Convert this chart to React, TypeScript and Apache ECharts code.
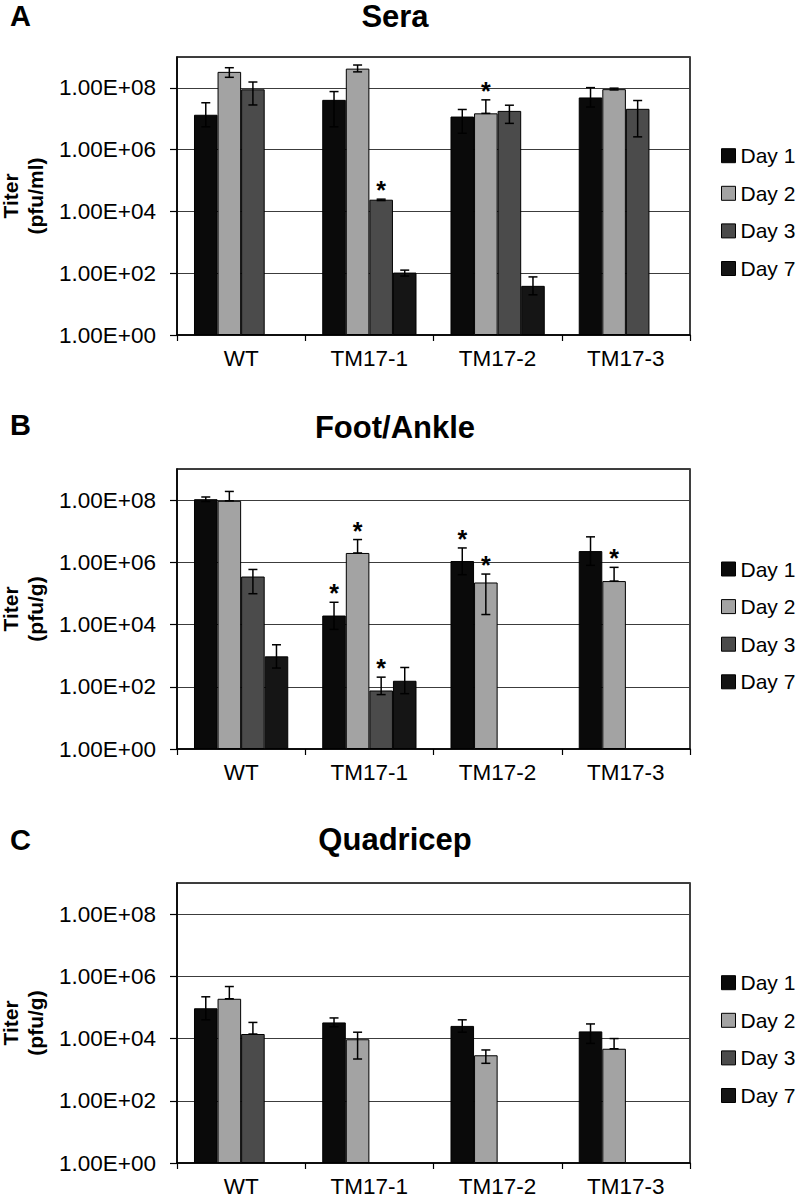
import React, { useEffect, useRef } from 'react';
import * as echarts from 'echarts';

// ---------- data ----------
const categories = ['WT', 'TM17-1', 'TM17-2', 'TM17-3'];
const days = ['Day 1', 'Day 2', 'Day 3', 'Day 7'];
const dayColors = ['#0a0a0a', '#a3a3a3', '#4b4b4b', '#151515'];

// Panel A – Sera (pfu/ml)
const seraDay1 = [1.35e7, 4.1e7, 1.18e7, 4.9e7];
const seraDay1Hi = [3.3e7, 7.6e7, 2.0e7, 1.02e8];
const seraDay1Lo = [5.5e6, 5.5e6, 3.4e6, 2.4e7];
const seraDay2 = [3.3e8, 4.2e8, 1.5e7, 9.1e7];
const seraDay2Hi = [4.5e8, 5.5e8, 4.1e7, 9.8e7];
const seraDay2Lo = [2.2e8, 3.3e8, 1.5e7, 8.6e7];
const seraDay3 = [9.0e7, 2.4e4, 1.8e7, 2.1e7];
const seraDay3Hi = [1.55e8, 2.5e4, 2.75e7, 3.9e7];
const seraDay3Lo = [2.8e7, 2.25e4, 7.1e6, 2.6e6];
const seraDay7 = [null, 105, 39, null];
const seraDay7Hi = [null, 126, 76, null];
const seraDay7Lo = [null, 81, 20, null];
const seraStars = [[0, 0, 0, 0], [0, 0, 1, 0], [0, 1, 0, 0], [0, 0, 0, 0]];

// Panel B – Foot/Ankle (pfu/g)
const footDay1 = [1.07e8, 1.95e4, 1.1e6, 2.3e6];
const footDay1Hi = [1.26e8, 5.2e4, 2.9e6, 6.6e6];
const footDay1Lo = [9.0e7, 7.0e3, 4.0e5, 8.0e5];
const footDay2 = [9.5e7, 2.0e6, 2.25e5, 2.5e5];
const footDay2Hi = [1.9e8, 5.4e6, 4.2e5, 6.9e5];
const footDay2Lo = [9.5e7, 2.0e6, 2.1e4, 2.5e5];
const footDay3 = [3.5e5, 76, null, null];
const footDay3Hi = [5.9e5, 204, null, null];
const footDay3Lo = [9.8e4, 56, null, null];
const footDay7 = [950, 156, null, null];
const footDay7Hi = [2240, 417, null, null];
const footDay7Lo = [400, 60, null, null];
const footStars = [[0, 1, 1, 0], [0, 1, 1, 1], [0, 1, 0, 0], [0, 0, 0, 0]];

// Panel C – Quadricep (pfu/g)
const quadDay1 = [9.4e4, 3.3e4, 2.55e4, 1.7e4];
const quadDay1Hi = [2.2e5, 4.6e4, 4.0e4, 2.95e4];
const quadDay1Lo = [4.0e4, 2.4e4, 1.6e4, 7.0e3];
const quadDay2 = [1.9e5, 9.5e3, 2.9e3, 4.7e3];
const quadDay2Hi = [4.7e5, 1.6e4, 4.3e3, 1.0e4];
const quadDay2Lo = [1.9e5, 2.2e3, 1.6e3, 4.7e3];
const quadDay3 = [1.4e4, null, null, null];
const quadDay3Hi = [3.3e4, null, null, null];
const quadDay3Lo = [1.4e4, null, null, null];
const quadDay7 = [null, null, null, null];
const quadDay7Hi = [null, null, null, null];
const quadDay7Lo = [null, null, null, null];
const quadStars = [[0, 0, 0, 0], [0, 0, 0, 0], [0, 0, 0, 0], [0, 0, 0, 0]];

const panelTitles = ['Sera', 'Foot/Ankle', 'Quadricep'];
const panelLetters = ['A', 'B', 'C'];
const panelUnits = ['(pfu/ml)', '(pfu/g)', '(pfu/g)'];

const panels = [
  {
    values: [seraDay1, seraDay2, seraDay3, seraDay7],
    hi: [seraDay1Hi, seraDay2Hi, seraDay3Hi, seraDay7Hi],
    lo: [seraDay1Lo, seraDay2Lo, seraDay3Lo, seraDay7Lo],
    stars: seraStars,
  },
  {
    values: [footDay1, footDay2, footDay3, footDay7],
    hi: [footDay1Hi, footDay2Hi, footDay3Hi, footDay7Hi],
    lo: [footDay1Lo, footDay2Lo, footDay3Lo, footDay7Lo],
    stars: footStars,
  },
  {
    values: [quadDay1, quadDay2, quadDay3, quadDay7],
    hi: [quadDay1Hi, quadDay2Hi, quadDay3Hi, quadDay7Hi],
    lo: [quadDay1Lo, quadDay2Lo, quadDay3Lo, quadDay7Lo],
    stars: quadStars,
  },
];

// ---------- layout ----------
const FONT = '"Liberation Sans", Arial, Helvetica, sans-serif';
const gridTops = [57, 469, 883];
const gridHeights = [278, 280, 280];
const gridLeft = 177;
const gridWidth = 513;
const titleY = [16, 427, 839];
const letterY = [16, 425, 840];
const legendFirstCenter = [155.7, 569, 982.7];
const CAT_GAP = 0.265;

function expLabel(val: number) {
  const e = Math.round(Math.log10(val));
  return '1.00E+' + (e < 10 ? '0' + e : String(e));
}

function makeRenderItem(dayIdx: number) {
  return (params: any, api: any) => {
    const ci = api.value(0);
    const v = api.value(1);
    const hi = api.value(2);
    const lo = api.value(3);
    const star = api.value(4);
    const band = api.size([1, 0], [ci, v])[0];
    const barW = (band * (1 - CAT_GAP)) / 4;
    const x = api.coord([ci, v])[0] + (dayIdx - 1.5) * barW;
    const yHi = api.coord([ci, hi])[1];
    const yLo = api.coord([ci, lo])[1];
    const cap = 4.5;
    const ls = { stroke: '#000', lineWidth: 1.5 };
    const children: any[] = [
      { type: 'line', shape: { x1: x, y1: yHi, x2: x, y2: yLo }, style: ls },
      { type: 'line', shape: { x1: x - cap, y1: yHi, x2: x + cap, y2: yHi }, style: ls },
      { type: 'line', shape: { x1: x - cap, y1: yLo, x2: x + cap, y2: yLo }, style: ls },
    ];
    if (star) {
      children.push({
        type: 'text',
        style: {
          text: '*',
          x,
          y: yHi - 9,
          align: 'center',
          verticalAlign: 'middle',
          textAlign: 'center',
          textVerticalAlign: 'middle',
          font: 'bold 25px ' + FONT,
          fill: '#000',
        },
      });
    }
    return { type: 'group', children };
  };
}

function buildOption() {
  const grid: any[] = [];
  const xAxis: any[] = [];
  const yAxis: any[] = [];
  const series: any[] = [];
  const legend: any[] = [];
  const graphic: any[] = [];

  panels.forEach((panel, p) => {
    grid.push({
      left: gridLeft,
      top: gridTops[p],
      width: gridWidth,
      height: gridHeights[p],
      containLabel: false,
      outerBoundsMode: 'none',
      show: true,
      borderColor: '#000',
      borderWidth: 1.5,
      backgroundColor: 'transparent',
    });
    xAxis.push({
      type: 'category',
      gridIndex: p,
      data: categories,
      axisLine: { lineStyle: { color: '#000', width: 1.5 } },
      axisTick: { show: true, length: 6, lineStyle: { color: '#000', width: 1.2 } },
      axisLabel: { fontSize: 22.5, color: '#000', margin: 12, fontFamily: FONT },
    });
    yAxis.push({
      type: 'log',
      logBase: 100,
      gridIndex: p,
      min: 1,
      max: 1e9,
      axisLine: { show: true, lineStyle: { color: '#000', width: 1.5 } },
      axisTick: { show: true, length: 7, lineStyle: { color: '#000', width: 1.2 } },
      axisLabel: {
        fontSize: 22.5,
        color: '#000',
        margin: 21,
        fontFamily: FONT,
        showMaxLabel: false,
        formatter: (val: number) => expLabel(val),
      },
      splitLine: { show: true, lineStyle: { color: '#3c3c3c', width: 1.2 } },
      name: 'Titer\n' + panelUnits[p],
      nameLocation: 'middle',
      nameRotate: 90,
      nameGap: 126,
      nameTextStyle: { fontSize: 21, fontWeight: 'bold', color: '#000', lineHeight: 25, fontFamily: FONT },
    });

    days.forEach((d, di) => {
      series.push({
        type: 'bar',
        name: d,
        xAxisIndex: p,
        yAxisIndex: p,
        data: panel.values[di].map((v) => (v == null ? '-' : v)),
        barGap: '0%',
        barCategoryGap: (CAT_GAP * 100).toFixed(1) + '%',
        itemStyle: { color: dayColors[di], borderColor: '#000', borderWidth: 1 },
        z: 2,
      });
      const errData: any[] = [];
      panel.values[di].forEach((v, ci) => {
        if (v == null) return;
        errData.push([ci, v, panel.hi[di][ci], panel.lo[di][ci], panel.stars[di][ci]]);
      });
      series.push({
        type: 'custom',
        name: 'err-' + p + '-' + di,
        xAxisIndex: p,
        yAxisIndex: p,
        renderItem: makeRenderItem(di),
        data: errData,
        z: 5,
        silent: true,
      });
    });

    legend.push({
      data: days,
      orient: 'vertical',
      left: 721,
      top: legendFirstCenter[p] - 11,
      padding: 0,
      itemWidth: 14,
      itemHeight: 14,
      itemGap: 15.6,
      icon: 'rect',
      selectedMode: false,
      itemStyle: { borderColor: '#000', borderWidth: 1 },
      textStyle: { fontSize: 21, color: '#000', lineHeight: 22, fontFamily: FONT, padding: [0, 0, 0, 0] },
    });

    graphic.push({
      type: 'text',
      x: 395,
      y: titleY[p],
      style: {
        text: panelTitles[p],
        font: 'bold 31px ' + FONT,
        fill: '#000',
        textAlign: 'center',
        textVerticalAlign: 'middle',
        align: 'center',
        verticalAlign: 'middle',
      },
    });
    graphic.push({
      type: 'text',
      x: 10,
      y: letterY[p],
      style: {
        text: panelLetters[p],
        font: 'bold 29px ' + FONT,
        fill: '#000',
        textAlign: 'left',
        textVerticalAlign: 'middle',
        align: 'left',
        verticalAlign: 'middle',
      },
    });
  });

  return {
    animation: false,
    backgroundColor: '#fff',
    textStyle: { fontFamily: FONT },
    grid,
    xAxis,
    yAxis,
    series,
    legend,
    graphic,
  };
}

export default function App() {
  const ref = useRef<HTMLDivElement>(null);
  useEffect(() => {
    if (!ref.current) return;
    const chart = echarts.init(ref.current, null, { renderer: 'svg' });
    chart.setOption(buildOption() as any);
    return () => chart.dispose();
  }, []);
  return (
    <div
      ref={ref}
      style={{ position: 'absolute', left: 0, top: 0, width: 800, height: 1200, background: '#fff' }}
    />
  );
}
